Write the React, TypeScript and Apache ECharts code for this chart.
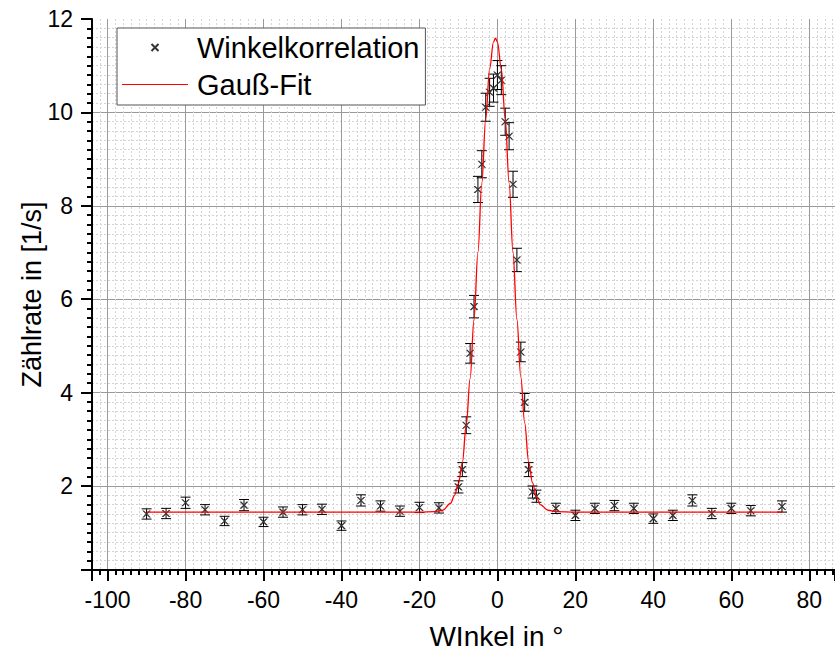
import React, { useEffect, useRef } from 'react';
import * as echarts from 'echarts';

// Measured angular correlation (angle in degrees, rate in 1/s, error in 1/s)
const angles = [-90, -85, -80, -75, -70, -65, -60, -55, -50, -45, -40, -35, -30, -25, -20, -15,
  -10, -9, -8, -7, -6, -5, -4, -3, -2, -1, 0, 1, 2, 3, 4, 5, 6, 7, 8, 9, 10,
  15, 20, 25, 30, 35, 40, 45, 50, 55, 60, 65, 73];
const rates = [1.40, 1.41, 1.64, 1.49, 1.25, 1.59, 1.23, 1.44, 1.49, 1.50, 1.15, 1.69, 1.57, 1.46, 1.54, 1.53,
  1.98, 2.35, 3.30, 4.84, 5.84, 8.35, 8.89, 10.11, 10.43, 10.52, 10.80, 10.69, 9.80, 9.49, 8.46, 6.84, 4.87, 3.79, 2.35, 1.87, 1.78,
  1.52, 1.37, 1.52, 1.58, 1.52, 1.30, 1.37, 1.69, 1.41, 1.52, 1.47, 1.56];
const rateErrors = [0.11, 0.11, 0.12, 0.11, 0.10, 0.12, 0.10, 0.11, 0.11, 0.11, 0.10, 0.12, 0.11, 0.11, 0.11, 0.11,
  0.13, 0.15, 0.18, 0.21, 0.24, 0.28, 0.29, 0.30, 0.30, 0.30, 0.31, 0.31, 0.29, 0.29, 0.28, 0.25, 0.21, 0.19, 0.15, 0.13, 0.13,
  0.11, 0.11, 0.11, 0.11, 0.11, 0.10, 0.11, 0.12, 0.11, 0.11, 0.11, 0.12];

// Gauss fit curve
const fitAngles = [-90, -20, -16, -14, -12, -11, -10, -9, -8, -7, -6, -5, -4, -3, -2, -1, -0.5, 0,
  1, 2, 3, 4, 5, 6, 7, 8, 9, 10, 11, 13, 15, 20, 73];
const fitRates = [1.44, 1.44, 1.45, 1.48, 1.63, 1.80, 2.05, 2.50, 3.30, 4.30, 5.57, 7.00, 8.49, 9.87, 10.93, 11.51, 11.59, 11.51,
  10.93, 9.87, 8.49, 7.00, 5.57, 4.33, 3.35, 2.52, 2.07, 1.76, 1.60, 1.48, 1.45, 1.44, 1.44];

const xMin = -104;
const xMax = 86.6;
const yMin = 0.2;
const yMax = 12;

const XPATH = 'path://M0,0M66,14M29.5,3.5L36.5,10.5M36.5,3.5L29.5,10.5';
const LINEPATH = 'path://M0,0M66,14M0,6.4L66,6.4L66,7.6L0,7.6Z';
const FONT = '"Liberation Sans", Arial, Helvetica, sans-serif';

export default function App() {
  const ref = useRef<HTMLDivElement>(null);
  useEffect(() => {
    const chart = echarts.init(ref.current!, null, { renderer: 'svg' });
    const points = angles.map((a, i) => [a, rates[i], rateErrors[i]]);
    const fit = fitAngles.map((a, i) => [a, fitRates[i]]);
    const axisCommon = () => ({
      type: 'value',
      nameLocation: 'middle',
      nameMoveOverlap: false,
      axisLine: { show: true, onZero: false, lineStyle: { color: '#000', width: 2 } },
      axisTick: { show: true, inside: false, length: 11, lineStyle: { color: '#000', width: 2 } },
      minorTick: { show: true, splitNumber: 10, length: 5, lineStyle: { color: '#000', width: 2 } },
      splitLine: { show: true, showMinLine: false, showMaxLine: false, lineStyle: { color: '#9a9a9a', width: 1 } },
      minorSplitLine: { show: true, lineStyle: { color: '#d4d4d4', width: 1, type: [2, 2] } },
    });
    chart.setOption({
      animation: false,
      backgroundColor: '#fff',
      grid: { left: 92, right: 0, top: 19, bottom: 87 },
      legend: {
        show: true,
        orient: 'vertical',
        left: 117,
        top: 28,
        backgroundColor: '#fff',
        borderColor: '#555',
        borderWidth: 1,
        borderRadius: 0,
        padding: [5, 6, 6, 4],
        itemGap: 8,
        itemWidth: 66,
        itemHeight: 14,
        selectedMode: false,
        textStyle: { fontSize: 29, color: '#000', fontFamily: FONT, padding: [0, 0, 0, 4] },
        data: [
          { name: 'Winkelkorrelation', icon: XPATH },
          { name: 'Gauß-Fit', icon: LINEPATH, itemStyle: { color: '#ff0000', borderWidth: 0 } },
        ],
      },
      xAxis: {
        ...axisCommon(),
        min: xMin,
        max: xMax,
        splitNumber: 10,
        name: 'WInkel in °',
        nameGap: 52,
        nameTextStyle: { fontSize: 28, color: '#000', fontFamily: FONT, padding: [0, 0, 0, 66] },
        axisLabel: { fontSize: 23, color: '#000', fontFamily: FONT, margin: 18, showMinLabel: false, showMaxLabel: false },
      },
      yAxis: {
        ...axisCommon(),
        min: yMin,
        max: yMax,
        splitNumber: 6,
        name: 'Zählrate in [1/s]',
        nameGap: 47,
        nameTextStyle: { fontSize: 27, color: '#000', fontFamily: FONT },
        axisLabel: { fontSize: 23, color: '#000', fontFamily: FONT, margin: 19, showMinLabel: false, showMaxLabel: true },
      },
      series: [
        {
          type: 'custom',
          silent: true,
          z: 3,
          data: points,
          encode: { x: 0, y: 1 },
          renderItem: (params: any, api: any) => {
            const x = api.value(0);
            const y = api.value(1);
            const e = api.value(2);
            const top = api.coord([x, y + e]);
            const bot = api.coord([x, y - e]);
            const w = 5;
            const st = { stroke: '#000', lineWidth: 1 };
            return {
              type: 'group',
              children: [
                { type: 'line', shape: { x1: top[0], y1: top[1], x2: bot[0], y2: bot[1] }, style: st },
                { type: 'line', shape: { x1: top[0] - w, y1: top[1], x2: top[0] + w, y2: top[1] }, style: st },
                { type: 'line', shape: { x1: bot[0] - w, y1: bot[1], x2: bot[0] + w, y2: bot[1] }, style: st },
              ],
            };
          },
        },
        {
          type: 'scatter',
          name: 'Winkelkorrelation',
          z: 4,
          symbol: XPATH,
          symbolSize: [66, 14],
          itemStyle: { color: 'transparent', borderColor: '#333', borderWidth: 0.8, opacity: 1 },
          data: points.map((p) => [p[0], p[1]]),
        },
        {
          type: 'line',
          name: 'Gauß-Fit',
          z: 5,
          showSymbol: false,
          symbol: 'none',
          smooth: 0.35,
          smoothMonotone: 'x',
          lineStyle: { color: '#ff0000', width: 1.3 },
          itemStyle: { color: '#ff0000' },
          data: fit,
        },
      ],
    });
    return () => chart.dispose();
  }, []);
  return <div ref={ref} style={{ position: 'absolute', left: 0, top: 0, width: 835, height: 657 }} />;
}
